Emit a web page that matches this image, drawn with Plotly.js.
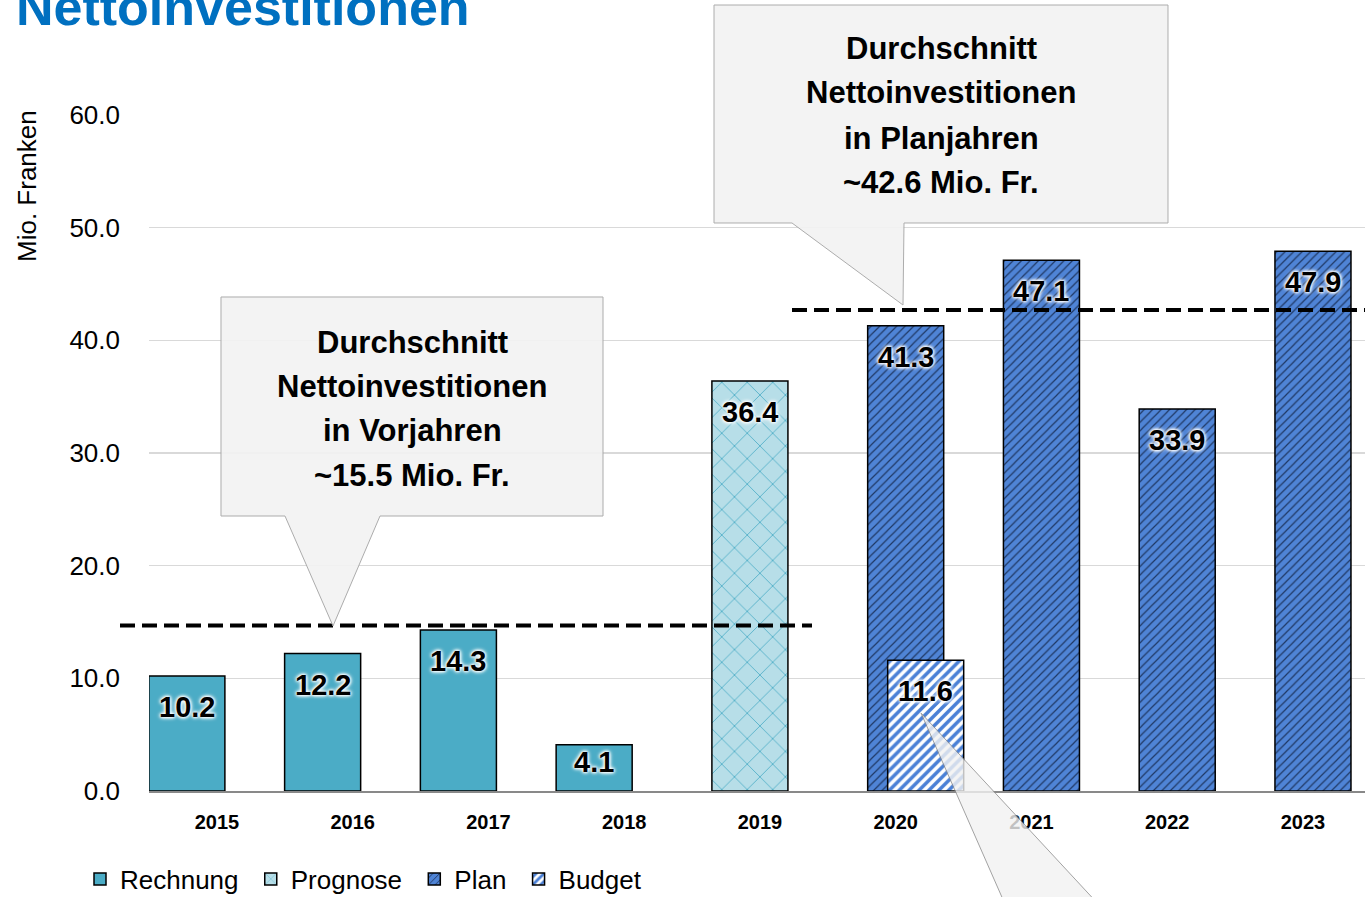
<!DOCTYPE html>
<html>
<head>
<meta charset="utf-8">
<script src="https://cdn.plot.ly/plotly-3.0.1.min.js"></script>
<style>html,body{margin:0;padding:0;background:#fff;}#chart{width:1365px;height:897px;}</style>
</head>
<body>
<div id="chart"></div>
<script>
// ---- data ----
const categories = ['2015','2016','2017','2018','2019','2020','2021','2022','2023'];
const rechnungYears = ['2015','2016','2017','2018'];
const rechnungValues = [10.2, 12.2, 14.3, 4.1];
const prognoseYears = ['2019'];
const prognoseValues = [36.4];
const planYears = ['2020','2021','2022','2023'];
const planValues = [41.3, 47.1, 33.9, 47.9];
const budgetYears = ['2020'];
const budgetValues = [11.6];
const avgVorjahre = 15.5;      // text in callout
const avgPlanjahre = 42.6;     // text in callout
const avgLineVorjahre = 14.7;  // dashed line level as drawn
const avgLinePlanjahre = 42.7; // dashed line level as drawn
const yTicks = [0, 10, 20, 30, 40, 50, 60];
const seriesNames = ['Rechnung', 'Prognose', 'Plan', 'Budget'];
const calloutVorjahre = ['Durchschnitt', 'Nettoinvestitionen', 'in Vorjahren', '~' + avgVorjahre.toFixed(1) + ' Mio. Fr.'];
const calloutPlanjahre = ['Durchschnitt', 'Nettoinvestitionen', 'in Planjahren', '~' + avgPlanjahre.toFixed(1) + ' Mio. Fr.'];

// ---- layout helpers (pixel -> paper) ----
const L = 149, R = 1365, T = 115, B = 791;
const W = R - L, H = B - T;
const px = x => (x - L) / W;
const py = y => (B - y) / H;
const path = pts => 'M' + pts.map(p => px(p[0]).toFixed(5) + ',' + py(p[1]).toFixed(5)).join(' L') + ' Z';

const FONT = '"Liberation Sans", Arial, sans-serif';

const barW = 0.56;
const shifts = {Rechnung: -0.221, Prognose: -0.0737, Plan: 0.0737, Budget: 0.221};

function barTrace(name, xs, ys, color, pattern) {
  return {
    type: 'bar', name: name + '\u00a0', x: xs, y: ys,
    width: barW, offset: shifts[name] - barW / 2,
    marker: {color: color, line: {color: '#000', width: 1.5}, pattern: pattern},
    hoverinfo: 'x+y'
  };
}

const traces = [
  barTrace(seriesNames[0], rechnungYears, rechnungValues, '#4bacc6', {shape: ''}),
  barTrace(seriesNames[1], prognoseYears, prognoseValues, '#b7dee8', {shape: 'x', bgcolor: '#b7dee8', fgcolor: '#4bacc6', size: 18, solidity: 0.09}),
  barTrace(seriesNames[2], planYears, planValues, '#4f84d6', {shape: '/', bgcolor: '#4f84d6', fgcolor: '#1f3864', size: 6, solidity: 0.2}),
  barTrace(seriesNames[3], budgetYears, budgetValues, '#ffffff', {shape: '/', bgcolor: '#ffffff', fgcolor: '#4a80d6', size: 7, solidity: 0.5})
];

// ---- data labels ----
const annotations = [];
function addLabels(name, xs, ys) {
  xs.forEach((c, i) => {
    const barPx = ys[i] * H / 60;
    annotations.push({
      xref: 'x', yref: 'y', x: categories.indexOf(c) + shifts[name], y: ys[i],
      yshift: -Math.min(31, barPx - 29), yanchor: 'middle', xanchor: 'center', showarrow: false,
      text: ys[i].toFixed(1),
      font: {family: FONT, size: 29, weight: 'bold', color: '#000',
             shadow: '0 0 3px #fff, 0 0 3px #fff, 0 0 4px #fff, 0 0 5px #fff'}
    });
  });
}
addLabels('Rechnung', rechnungYears, rechnungValues);
addLabels('Prognose', prognoseYears, prognoseValues);
addLabels('Plan', planYears, planValues);
addLabels('Budget', budgetYears, budgetValues);

// title
annotations.push({
  xref: 'paper', yref: 'paper', x: px(14), y: py(38), xanchor: 'left', yanchor: 'bottom',
  showarrow: false, text: 'Nettoinvestitionen',
  font: {family: FONT, size: 52, weight: 'bold', color: '#0070c0'}
});
// y axis title
annotations.push({
  xref: 'paper', yref: 'paper', x: px(27), y: py(186), xanchor: 'center', yanchor: 'middle',
  showarrow: false, text: 'Mio. Franken', textangle: -90,
  font: {family: FONT, size: 26, color: '#000'}
});
// callout texts, one line each
function calloutText(lines, cx, ys) {
  lines.forEach((t, i) => annotations.push({
    xref: 'paper', yref: 'paper', x: px(cx), y: py(ys[i]), xanchor: 'center', yanchor: 'middle',
    showarrow: false, text: t,
    font: {family: FONT, size: 31, weight: 'bold', color: '#000'}
  }));
}
calloutText(calloutVorjahre, 412, [342, 387, 431, 475]);
calloutText(calloutPlanjahre, 941, [48, 93, 138, 183]);

const shapes = [
  // dashed average lines
  {type: 'line', xref: 'paper', yref: 'y', x0: px(120), x1: px(812), y0: avgLineVorjahre, y1: avgLineVorjahre,
   line: {color: '#000', width: 4, dash: '15px,7px'}, layer: 'above'},
  {type: 'line', xref: 'paper', yref: 'y', x0: px(792), x1: px(1365), y0: avgLinePlanjahre, y1: avgLinePlanjahre,
   line: {color: '#000', width: 4, dash: '15px,7px'}, layer: 'above'},
  // callouts
  {type: 'path', xref: 'paper', yref: 'paper', layer: 'above', opacity: 0.92,
   path: path([[221,297],[603,297],[603,516],[380,516],[333,626],[285,516],[221,516]]),
   fillcolor: '#f2f2f2', line: {color: '#a6a6a6', width: 1}},
  {type: 'path', xref: 'paper', yref: 'paper', layer: 'above', opacity: 0.92,
   path: path([[714,5],[1168,5],[1168,223],[904,223],[903,305],[792,223],[714,223]]),
   fillcolor: '#f2f2f2', line: {color: '#a6a6a6', width: 1}},
  {type: 'path', xref: 'paper', yref: 'paper', layer: 'above', opacity: 0.8,
   path: path([[921,713],[1113,920],[1012,920]]),
   fillcolor: '#f2f2f2', line: {color: '#8c8c8c', width: 1}}
];

const layout = {
  width: 1365, height: 897,
  margin: {l: L, r: 1365 - R, t: T, b: 897 - B, pad: 0, autoexpand: false},
  paper_bgcolor: '#fff', plot_bgcolor: '#fff',
  barmode: 'overlay',
  showlegend: true,
  legend: {orientation: 'h', x: px(80), y: py(879), xanchor: 'left', yanchor: 'middle',
           font: {family: FONT, size: 26, color: '#000'}, bgcolor: 'rgba(0,0,0,0)', traceorder: 'normal'},
  xaxis: {type: 'category', categoryorder: 'array', categoryarray: categories,
          range: [-0.5, 8.457],
          showgrid: false, showline: true, linecolor: '#898989', linewidth: 2, ticks: '',
          tickfont: {family: FONT, size: 20, weight: 'bold', color: '#000'},
          ticklabelstandoff: 12, fixedrange: true},
  yaxis: {range: [0, 60], tickvals: yTicks, tickformat: '.1f', showgrid: true, gridcolor: '#d9d9d9', gridwidth: 1.5,
          zeroline: false, showline: false, ticks: '',
          tickfont: {family: FONT, size: 26, color: '#000'}, ticklabelstandoff: 28, fixedrange: true},
  annotations: annotations,
  shapes: shapes
};

Plotly.newPlot('chart', traces, layout, {displayModeBar: false, staticPlot: true});
</script>
</body>
</html>
